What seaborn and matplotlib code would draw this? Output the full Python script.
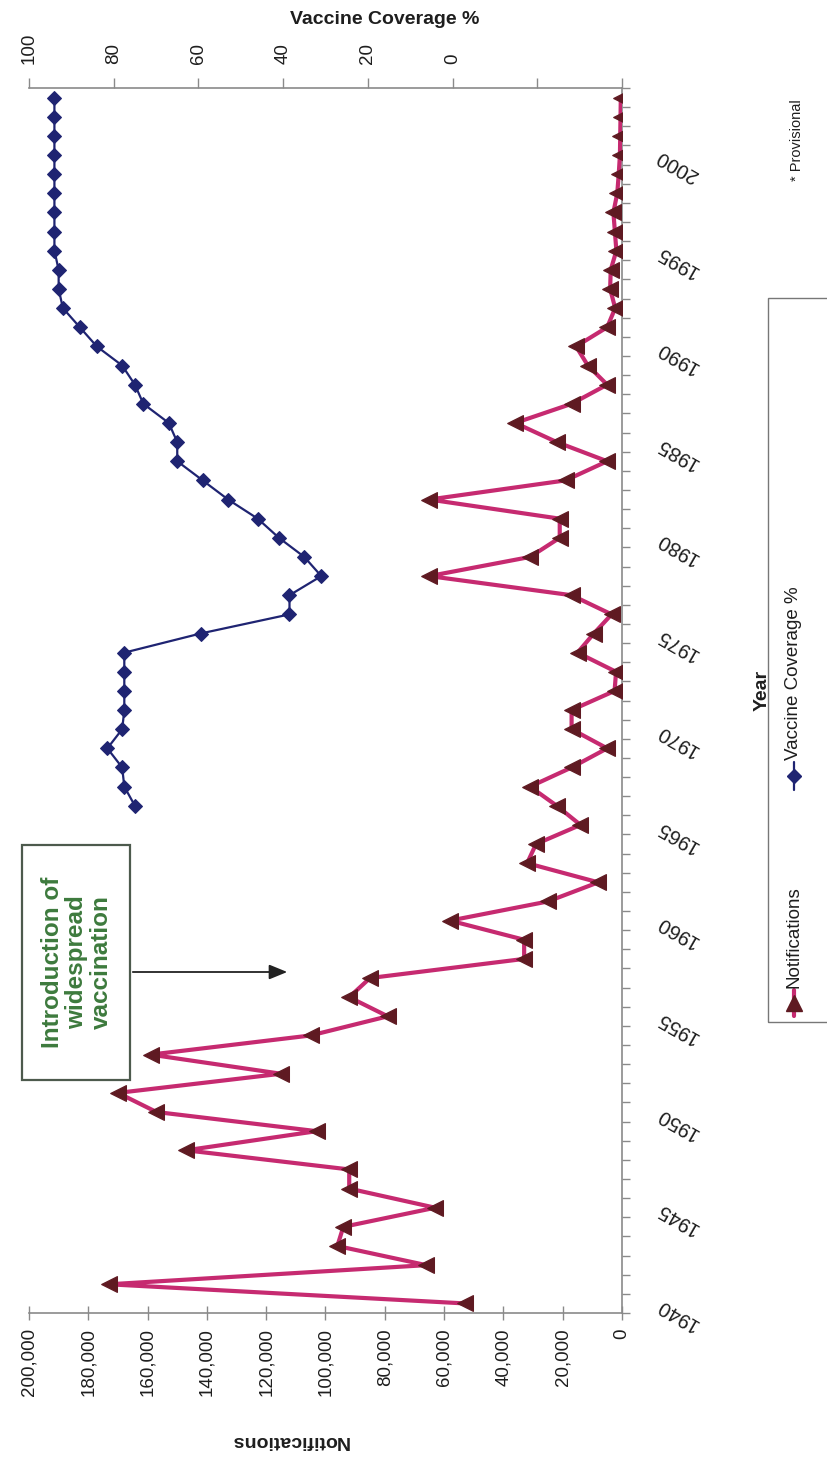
import numpy as np
import pandas as pd
import matplotlib
matplotlib.use("Agg")
import matplotlib.pyplot as plt
import seaborn as sns
from matplotlib.patches import Rectangle
from matplotlib.lines import Line2D

# ---- data -------------------------------------------------------------
years = list(range(1940, 2004))
notifications = [
    53000, 173000, 66000, 96000, 94000, 63000, 92000, 92000, 147000, 103000,   # 1940s
    157000, 170000, 115000, 159000, 105000, 79000, 92000, 85000, 33000, 33000,  # 1950s
    58000, 25000, 8000, 32000, 29000, 14000, 22000, 31000, 17000, 5000,         # 1960s
    17000, 17000, 2500, 2000, 15000, 9500, 3500, 17000, 65000, 31000,           # 1970s
    21000, 21000, 65000, 19000, 5000, 22000, 36000, 17000, 5000, 11500,         # 1980s
    15500, 5000, 2300, 4000, 3800, 1900, 2400, 2900, 1600, 1100,                # 1990s
    700, 600, 500, 400,                                                        # 2000s
]
coverage_years = list(range(1966, 2004))
coverage = [
    75, 77.5, 78, 81.5, 78, 77.5, 77.5, 77.5, 77.5, 59.5,
    38.5, 38.5, 31, 35, 41, 46, 53, 59, 65, 65,
    67, 73, 75, 78, 84, 88, 92, 93, 93, 94,
    94, 94, 94, 94, 94, 94, 94, 94,
]
notif_ticks = list(range(0, 200001, 20000))
coverage_ticks = list(range(-40, 101, 20))
year_labels = list(range(1940, 2001, 5))

# ---- style ------------------------------------------------------------
sns.set_style("white")
plt.rcParams["font.family"] = ["Liberation Sans", "DejaVu Sans"]

PINK = "#c62a70"
MAROON = "#5f1a22"
NAVY = "#1f2472"
AXIS = "#8a8a8a"
GREEN = "#3d7a3d"
INK = "#1e1e1e"

W, H = 828, 1468
fig = plt.figure(figsize=(W / 100, H / 100), dpi=100)


def fx(px):
    return px / W


def fy(py):
    return 1 - py / H


L, R, T, B = 29, 622, 88, 1313
ax = fig.add_axes([fx(L), fy(B), (R - L) / W, (B - T) / H])
ax2 = ax.twiny()

# ---- series -----------------------------------------------------------
df_n = pd.DataFrame({"Year": years, "Notifications": notifications})
df_c = pd.DataFrame({"Year": coverage_years, "Coverage": coverage})

sns.lineplot(data=df_n, x="Notifications", y="Year", orient="y", ax=ax,
             estimator=None, color=PINK, lw=3, marker="<", markersize=11,
             markerfacecolor=MAROON, markeredgecolor=MAROON, zorder=3)
sns.lineplot(data=df_c, x="Coverage", y="Year", orient="y", ax=ax2,
             estimator=None, color=NAVY, lw=1.6, marker="D", markersize=7,
             markerfacecolor=NAVY, markeredgecolor=NAVY, zorder=3)

ax.set_xlim(200000, 0)
ax2.set_xlim(100, -40)
ax.set_ylim(1939.5, 2003.5)

for a in (ax, ax2):
    a.set_xlabel("")
    a.set_ylabel("")
    a.set_facecolor("none")
    for s in a.spines.values():
        s.set_visible(False)
        s.set_color(AXIS)
        s.set_linewidth(1.2)

ax.spines["bottom"].set_visible(True)
ax.spines["right"].set_visible(True)
ax2.spines["top"].set_visible(True)

# notifications axis (bottom)
ax.set_xticks(notif_ticks)
ax.set_xticklabels([f"{v:,}" for v in notif_ticks], rotation=90, fontsize=13.5,
                   color=INK)
ax.tick_params(axis="x", bottom=True, direction="inout", length=10,
               width=1, color=AXIS, pad=6)

# year axis (right)
ax.yaxis.tick_right()
ax.set_yticks(year_labels)
ax.set_yticklabels([str(y) for y in year_labels], fontsize=14.5, color=INK)
ax.set_yticks(np.arange(1939.5, 2004, 1.0), minor=True)
ax.tick_params(axis="y", which="major", right=True, left=False, length=0,
               pad=26)
ax.tick_params(axis="y", which="minor", right=True, left=False, length=6,
               width=1, color=AXIS, direction="out")
for lbl in ax.get_yticklabels():
    lbl.set_rotation(150)
    lbl.set_rotation_mode("anchor")
    lbl.set_ha("right")
    lbl.set_va("center")

# coverage axis (top)
ax2.set_xticks(coverage_ticks)
ax2.set_xticklabels([str(v) if v >= 0 else "" for v in coverage_ticks],
                    rotation=90, fontsize=13.5, color=INK)
ax2.tick_params(axis="x", top=True, bottom=False, direction="out", length=7,
                width=1, color=AXIS, pad=10)

# ---- axis titles --------------------------------------------------------
fig.text(fx(290), fy(1440), "Notifications", rotation=180, ha="center",
         va="center", fontsize=14, fontweight="bold", color=INK)
fig.text(fx(385), fy(20), "Vaccine Coverage %", ha="center", va="center",
         fontsize=14, fontweight="bold", color=INK)
fig.text(fx(762), fy(690), "Year", rotation=90, ha="center", va="center",
         fontsize=14, fontweight="bold", color=INK)
fig.text(fx(797), fy(140), "* Provisional", rotation=90, ha="center",
         va="center", fontsize=10.5, color=INK)

# ---- legend (rotated) ----------------------------------------------------
fig.patches.append(Rectangle((fx(768), fy(1022)), fx(80), (1022 - 298) / H,
                             transform=fig.transFigure, fill=False,
                             edgecolor="#777777", lw=1))
lx = fx(794)
fig.lines.append(Line2D([lx, lx], [fy(1016), fy(990)], transform=fig.transFigure,
                        color=PINK, lw=3))
fig.lines.append(Line2D([lx], [fy(1003)], transform=fig.transFigure,
                        marker="^", markersize=11, color=MAROON, lw=0))
fig.text(lx, fy(988), "Notifications", rotation=90, ha="center", va="bottom",
         fontsize=13.5, color=INK)
fig.lines.append(Line2D([lx, lx], [fy(790), fy(762)], transform=fig.transFigure,
                        color=NAVY, lw=1.6))
fig.lines.append(Line2D([lx], [fy(776)], transform=fig.transFigure,
                        marker="D", markersize=7, color=NAVY, lw=0))
fig.text(lx, fy(760), "Vaccine Coverage %", rotation=90, ha="center",
         va="bottom", fontsize=13.5, color=INK)

# ---- annotation box and arrow ---------------------------------------------
fig.patches.append(Rectangle((fx(22), fy(1080)), (130 - 22) / W, (1080 - 845) / H,
                             transform=fig.transFigure, fill=True,
                             facecolor="white", edgecolor="#4d5a4d", lw=1.6,
                             zorder=5))
fig.text(fx(77), fy(962), "Introduction of\nwidespread\nvaccination",
         rotation=90, ha="center", va="center", multialignment="center",
         fontsize=17.5, fontweight="bold", color=GREEN, linespacing=1.1,
         zorder=6)
ax.annotate("", xy=(fx(290), fy(972)), xycoords="figure fraction",
            xytext=(fx(130), fy(972)), textcoords="figure fraction",
            arrowprops=dict(arrowstyle="-|>,head_length=1.1,head_width=0.45",
                            color="#222222", lw=1.3))

fig.savefig("out.png", dpi=100, facecolor="white")
